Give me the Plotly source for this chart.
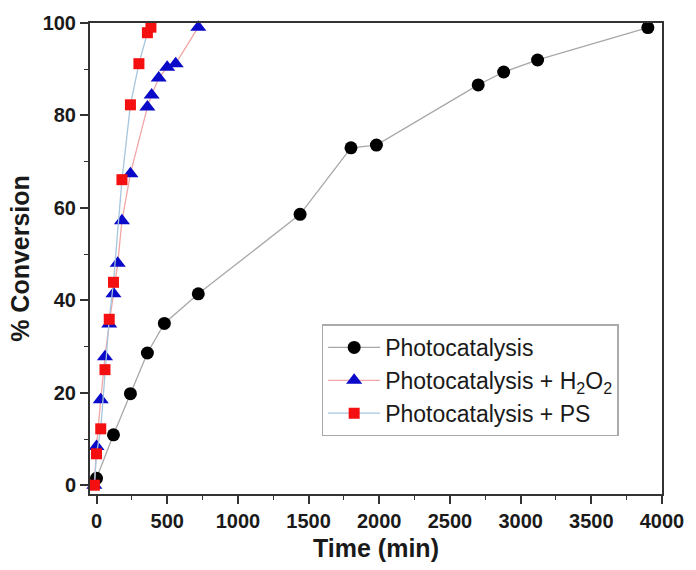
import plotly.graph_objects as go

# Photocatalysis (black circles)
t_photo = [0, 120, 240, 360, 480, 720, 1440, 1800, 1980, 2700, 2880, 3120, 3900]
c_photo = [1.5, 10.9, 19.8, 28.6, 35.0, 41.4, 58.6, 73.0, 73.6, 86.6, 89.4, 92.0, 99.0]

# Photocatalysis + H2O2 (blue triangles)
t_h2o2 = [-15, 0, 30, 60, 90, 120, 150, 180, 240, 360, 390, 440, 500, 560, 720]
c_h2o2 = [0, 8.4, 18.5, 27.8, 34.9, 41.4, 48.0, 57.2, 67.4, 81.8, 84.4, 88.1, 90.4, 91.2, 99.1]

# Photocatalysis + PS (red squares)
t_ps = [-15, 0, 30, 60, 90, 120, 180, 240, 300, 360, 385]
c_ps = [0, 6.8, 12.2, 25.0, 35.9, 43.9, 66.1, 82.3, 91.2, 97.9, 99.1]

x_ticks = [0, 500, 1000, 1500, 2000, 2500, 3000, 3500, 4000]
y_ticks = [0, 20, 40, 60, 80, 100]

FONT = "Liberation Sans, Arial, sans-serif"

fig = go.Figure()
fig.add_trace(go.Scatter(
    x=t_photo, y=c_photo, mode="lines+markers", name="Photocatalysis",
    line=dict(color="#a8a8a8", width=1.3),
    marker=dict(symbol="circle", size=13, color="#000000"),
    cliponaxis=False))
fig.add_trace(go.Scatter(
    x=t_h2o2, y=c_h2o2, mode="lines+markers", name="Photocatalysis + H<sub>2</sub>O<sub>2</sub>",
    line=dict(color="#f2a6a6", width=1.3),
    marker=dict(symbol="triangle-up", size=14, color="#0a0ac8"),
    cliponaxis=False))
fig.add_trace(go.Scatter(
    x=t_ps, y=c_ps, mode="lines+markers", name="Photocatalysis + PS",
    line=dict(color="#a6c6de", width=1.3),
    marker=dict(symbol="square", size=11, color="#f41010"),
    cliponaxis=False))

axis_common = dict(
    showline=True, linecolor="#333333", linewidth=2, mirror=True,
    ticks="outside", ticklen=8, tickwidth=1.5, tickcolor="#333333",
    showgrid=False, zeroline=False,
    tickfont=dict(family=FONT, size=20, color="#1a1a1a", weight="bold"),
)

fig.update_xaxes(
    range=[-46, 4000], tickvals=x_ticks,
    minor=dict(dtick=250, tick0=0, ticks="outside", ticklen=4, tickwidth=1.2, tickcolor="#333333"),
    title=dict(text="Time (min)", font=dict(family=FONT, size=25, color="#1a1a1a", weight="bold"), standoff=8),
    **axis_common)
fig.update_yaxes(
    range=[-1.9, 100], tickvals=y_ticks,
    minor=dict(dtick=10, tick0=0, ticks="outside", ticklen=4, tickwidth=1.2, tickcolor="#333333"),
    title=dict(text="% Conversion", font=dict(family=FONT, size=25, color="#1a1a1a", weight="bold"), standoff=6),
    **axis_common)

fig.update_layout(
    width=696, height=570,
    margin=dict(l=90, r=24, t=23, b=75),
    paper_bgcolor="white", plot_bgcolor="white",
    showlegend=True,
    legend=dict(
        x=0.405, y=0.36, xanchor="left", yanchor="top",
        bgcolor="white", bordercolor="#aaaaaa", borderwidth=1.5,
        font=dict(family=FONT, size=23, color="#1a1a1a"),
        itemwidth=52, tracegroupgap=0,
    ),
)

fig.write_html("out.html")
